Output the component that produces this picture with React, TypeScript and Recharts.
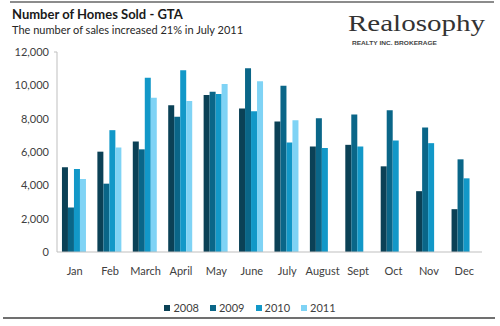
import React from "react";
import { BarChart, Bar, XAxis, YAxis } from "recharts";

const months = ["Jan", "Feb", "March", "April", "May", "June", "July", "August", "Sept", "Oct", "Nov", "Dec"];
const sales2008 = [5080, 6020, 6630, 8800, 9420, 8610, 7830, 6330, 6430, 5140, 3650, 2570];
const sales2009 = [2670, 4100, 6160, 8110, 9620, 11020, 9980, 8030, 8250, 8510, 7470, 5560];
const sales2010 = [4980, 7310, 10460, 10900, 9480, 8450, 6570, 6240, 6330, 6690, 6530, 4420];
const sales2011: (number | null)[] = [4380, 6270, 9260, 9060, 10080, 10240, 7910, null, null, null, null, null];
const yTicks = [0, 2000, 4000, 6000, 8000, 10000, 12000];

const seriesNames = ["2008", "2009", "2010", "2011"];
const colors = ["#0B4156", "#0A6688", "#1298C8", "#7FD3F5"];

const data = months.map((m, i) => ({
  month: m,
  "2008": sales2008[i],
  "2009": sales2009[i],
  "2010": sales2010[i],
  "2011": sales2011[i],
}));

const FONT = "Lato, 'Liberation Sans', sans-serif";

const LegendBox = () => (
  <div
    style={{
      position: "absolute",
      left: 0,
      top: 301,
      width: 500,
      display: "flex",
      justifyContent: "center",
      fontFamily: FONT,
      fontSize: 11,
      color: "#404040",
      lineHeight: "14px",
    }}
  >
    {seriesNames.map((n, i) => (
      <span key={n} style={{ display: "inline-flex", alignItems: "center", marginRight: i < 3 ? 11 : 0 }}>
        <span style={{ width: 6, height: 6, background: colors[i], display: "inline-block", marginRight: 3 }} />
        {n}
      </span>
    ))}
  </div>
);

export default function App() {
  return (
    <div style={{ position: "absolute", left: 0, top: 0, width: 500, height: 326, background: "#fff", overflow: "hidden" }}>
      <svg width={500} height={326} style={{ position: "absolute", left: 0, top: 0 }}>
        <line x1={10} x2={494} y1={2} y2={2} stroke="#8c8c8c" strokeWidth={2} />
        <line x1={3} x2={495} y1={318} y2={318} stroke="#404040" strokeWidth={1.5} />
        <text x={12} y={19} fontFamily={FONT} fontWeight="bold" fontSize={13} fill="#1a1a1a">
          Number of Homes Sold - GTA
        </text>
        <text x={12} y={34} fontFamily={FONT} fontSize={11} fill="#262626">
          The number of sales increased 21% in July 2011
        </text>
        <text x={348} y={31} fontFamily="'Liberation Serif', 'DejaVu Serif', serif" fontSize={24} fill="#333" textLength={137} lengthAdjust="spacingAndGlyphs">
          Realosophy
        </text>
        <text x={352} y={45} fontFamily="'Liberation Sans', sans-serif" fontWeight="bold" fontSize={5} fill="#444" textLength={85} lengthAdjust="spacingAndGlyphs">
          REALTY INC. BROKERAGE
        </text>
        <line x1={54} x2={57} y1={52} y2={52} stroke="#bfbfbf" />
      </svg>
      <div style={{ position: "absolute", left: 0, top: 0 }}>
        <BarChart
          width={500}
          height={326}
          data={data}
          margin={{ top: 52, right: 18, bottom: 44, left: 0 }}
          barCategoryGap="14%"
          barGap={0}
        >
          <XAxis
            dataKey="month"
            tickLine={false}
            axisLine={{ stroke: "#bfbfbf" }}
            tick={{ fontFamily: FONT, fontSize: 11, fill: "#404040" }}
            tickMargin={9}
            height={30}
            interval={0}
          />
          <YAxis
            width={57}
            domain={[0, 12000]}
            ticks={yTicks}
            tickLine={false}
            axisLine={{ stroke: "#bfbfbf" }}
            tick={{ fontFamily: FONT, fontSize: 11, fill: "#404040" }}
            tickFormatter={(v: number) => v.toLocaleString("en-US")}
            interval={0}
          />
          {seriesNames.map((n, i) => (
            <Bar key={n} dataKey={n} fill={colors[i]} isAnimationActive={false} />
          ))}
        </BarChart>
      </div>
      <LegendBox />
    </div>
  );
}
